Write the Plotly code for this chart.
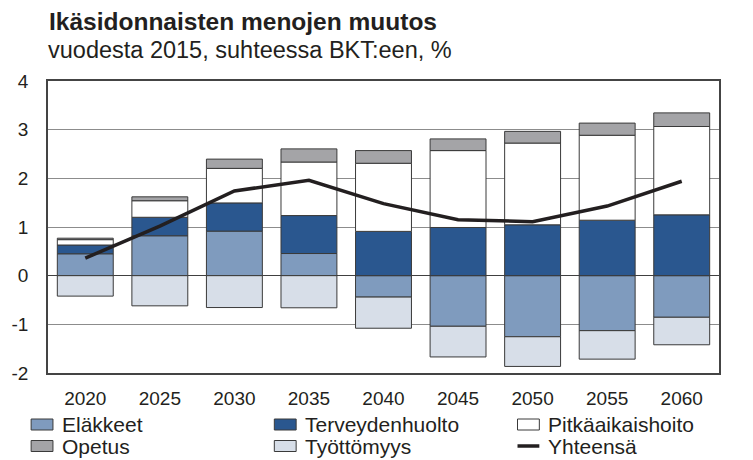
import plotly.graph_objects as go

# Change in age-related expenditure from 2015, % of GDP
years = ["2020", "2025", "2030", "2035", "2040", "2045", "2050", "2055", "2060"]

elakkeet = [0.45, 0.82, 0.915, 0.455, -0.44, -1.04, -1.255, -1.13, -0.855]
terveydenhuolto = [0.18, 0.38, 0.58, 0.78, 0.91, 0.99, 1.045, 1.14, 1.25]
pitkaaikaishoito = [0.11, 0.34, 0.71, 1.10, 1.40, 1.58, 1.68, 1.745, 1.815]
opetus = [0.03, 0.08, 0.19, 0.27, 0.26, 0.24, 0.24, 0.25, 0.28]
tyottomyys = [-0.42, -0.62, -0.655, -0.66, -0.64, -0.63, -0.61, -0.585, -0.565]
yhteensa = [0.36, 1.02, 1.74, 1.96, 1.48, 1.15, 1.11, 1.43, 1.94]

y_ticks = [-2, -1, 0, 1, 2, 3, 4]
y_tick_text = ["-2", "-1", "0", "1", "2", "3", "4"]

W, H = 753, 460
M_L, M_R, M_T, M_B = 43, 34, 81, 87
FONT = "Liberation Sans, Arial, Helvetica, sans-serif"
INK = "#231f20"
EDGE = "#3a3a3a"

bar_series = [
    ("Eläkkeet", elakkeet, "#7f9bbe"),
    ("Terveydenhuolto", terveydenhuolto, "#2a578f"),
    ("Pitkäaikaishoito", pitkaaikaishoito, "#ffffff"),
    ("Opetus", opetus, "#a4a4a7"),
    ("Työttömyys", tyottomyys, "#d7dee8"),
]

fig = go.Figure()
for name, vals, col in bar_series:
    fig.add_trace(go.Bar(
        x=years, y=vals, name=name,
        marker=dict(color=col, line=dict(color=EDGE, width=1)),
        showlegend=False,
    ))
fig.add_trace(go.Scatter(
    x=years, y=yhteensa, name="Yhteensä", mode="lines",
    line=dict(color=INK, width=3.5), showlegend=False,
))

plot_w = W - M_L - M_R
plot_h = H - M_T - M_B


def px(x):
    return (x - M_L) / plot_w


def py(y):
    return (H - M_B - y) / plot_h


# Title and subtitle
fig.add_annotation(text="<b>Ikäsidonnaisten menojen muutos</b>", x=px(42), y=py(21),
                   xref="paper", yref="paper", xanchor="left", yanchor="middle",
                   showarrow=False, font=dict(size=24.5, color=INK, family=FONT))
fig.add_annotation(text="vuodesta 2015, suhteessa BKT:een, %", x=px(41), y=py(50),
                   xref="paper", yref="paper", xanchor="left", yanchor="middle",
                   showarrow=False, font=dict(size=23.5, color=INK, family=FONT))

# Legend: three columns, two rows
legend_items = [
    ("Eläkkeet", "#7f9bbe", "box"),
    ("Terveydenhuolto", "#2a578f", "box"),
    ("Pitkäaikaishoito", "#ffffff", "box"),
    ("Opetus", "#a4a4a7", "box"),
    ("Työttömyys", "#d7dee8", "box"),
    ("Yhteensä", INK, "line"),
]
col_x = [26, 271, 516]
row_y = [424.5, 446]
for i, (label, col, kind) in enumerate(legend_items):
    cx = col_x[i % 3]
    ry = row_y[i // 3]
    if kind == "box":
        fig.add_shape(type="rect", xref="paper", yref="paper",
                      x0=px(cx), x1=px(cx + 22), y0=py(ry - 5.5), y1=py(ry + 5.5),
                      fillcolor=col, line=dict(color=EDGE, width=1))
    else:
        fig.add_shape(type="line", xref="paper", yref="paper",
                      x0=px(cx), x1=px(cx + 22), y0=py(ry), y1=py(ry),
                      line=dict(color=col, width=3.5))
    fig.add_annotation(text=label, x=px(cx + 29), y=py(ry), xref="paper", yref="paper",
                       xanchor="left", yanchor="middle", showarrow=False,
                       font=dict(size=21, color=INK, family=FONT))

fig.update_layout(
    width=W, height=H,
    margin=dict(l=M_L, r=M_R, t=M_T, b=M_B),
    paper_bgcolor="white", plot_bgcolor="white",
    barmode="relative", bargap=0.25,
    font=dict(family=FONT, color=INK),
    showlegend=False,
    xaxis=dict(
        type="category", showgrid=False, ticks="", ticklabelstandoff=7,
        showline=True, linecolor="#444444", linewidth=1.5, mirror=True,
        tickfont=dict(size=19, color=INK),
    ),
    yaxis=dict(
        range=[-2, 4], tickvals=y_ticks, ticktext=y_tick_text,
        showgrid=True, gridcolor="#8c8c8c", gridwidth=1,
        zeroline=True, zerolinecolor="#404040", zerolinewidth=1,
        ticks="", ticklabelstandoff=14,
        showline=True, linecolor="#444444", linewidth=1.5, mirror=True,
        tickfont=dict(size=19, color=INK),
    ),
    yaxis2=dict(
        range=[-2, 4], tickvals=y_ticks, ticktext=y_tick_text,
        overlaying="y", side="right", anchor="x",
        showgrid=False, zeroline=False, ticks="", ticklabelstandoff=14,
        tickfont=dict(size=19, color=INK),
    ),
)

fig.write_html("out.html")
